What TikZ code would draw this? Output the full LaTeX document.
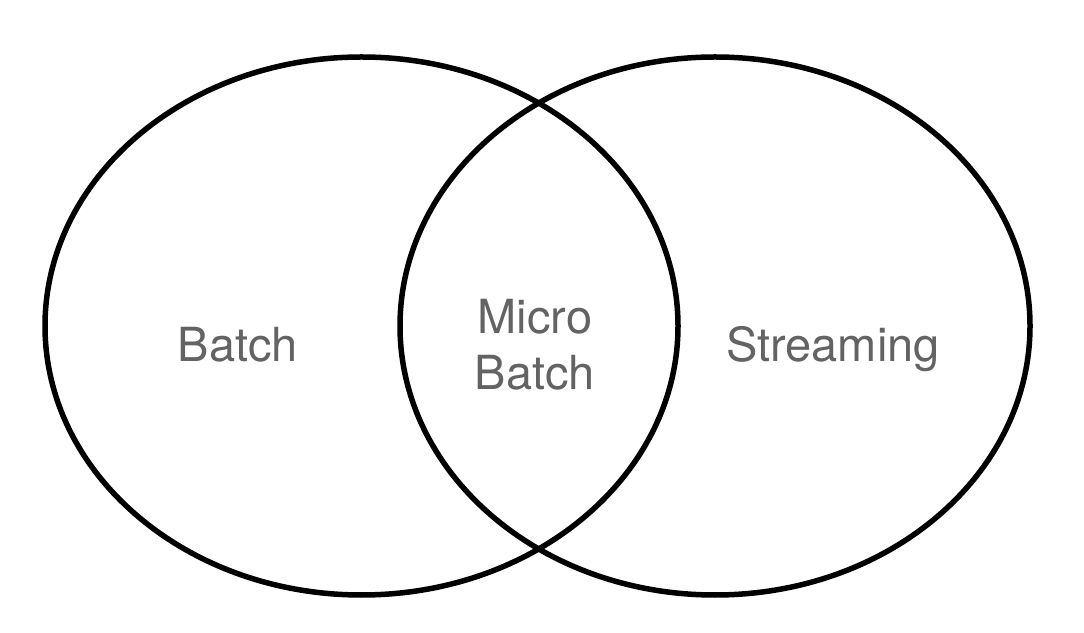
\documentclass[tikz,border=0pt]{standalone}
\usepackage{fontspec}
\setmainfont{TeX Gyre Heros}
\definecolor{labelgray}{HTML}{636363}
\begin{document}
\begin{tikzpicture}[x=1pt,y=1pt,
  setring/.style={draw=black,line width=5.5pt},
  setlabel/.style={text=labelgray,font=\fontsize{47}{56}\selectfont,align=center,inner sep=0pt}]
\useasboundingbox (0,0) rectangle (1084,632);
\draw[setring] (361.5,306) ellipse [x radius=316.5, y radius=269];
\draw[setring] (715,306) ellipse [x radius=315, y radius=269];
\node[setlabel,anchor=base] (batch) at (238,270) {Batch};
\node[setlabel,anchor=base] (stream) at (833,270) {Streaming};
\node[setlabel] (micro) at (535,287) {Micro\\Batch};
\end{tikzpicture}
\end{document}
